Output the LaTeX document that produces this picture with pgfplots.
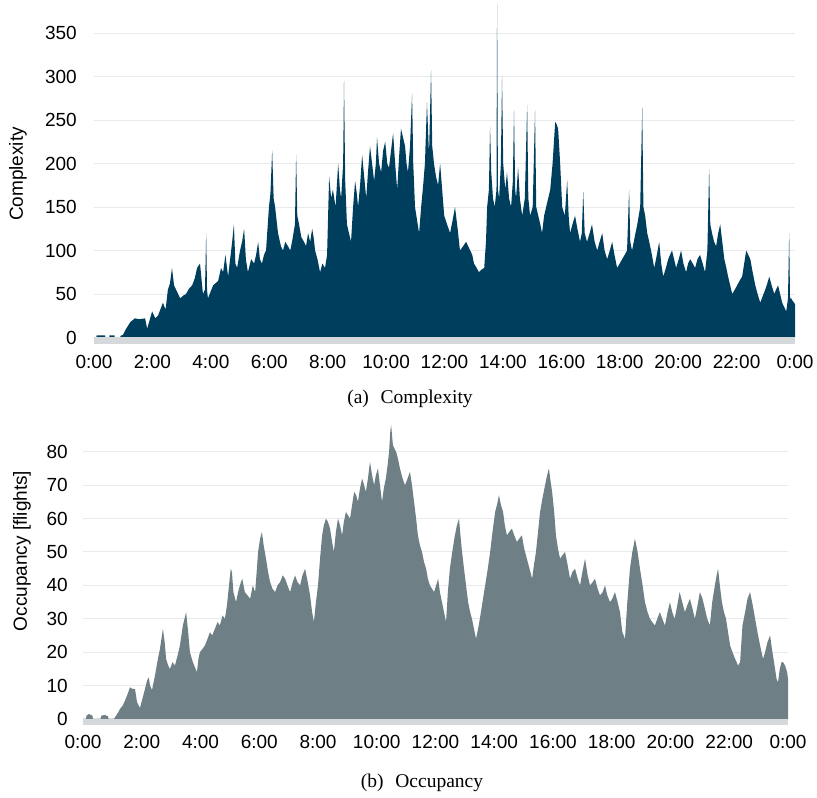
\documentclass[border=0pt]{standalone}
\usepackage{fontspec}
\setmainfont{Liberation Sans}
\newfontfamily\capfont{Liberation Serif}
\usepackage{pgfplots}
\pgfplotsset{compat=1.18}

\definecolor{cplx}{HTML}{003E5E}
\definecolor{occ}{HTML}{6E8086}
\definecolor{gridc}{HTML}{E8EAEC}
\definecolor{bandc}{HTML}{D5D9DC}

\pgfplotsset{
  timeaxis/.style={
    scale only axis, clip=false,
    axis line style={draw=none},
    major tick length=0pt,
    xmin=0, xmax=24,
    xtick={0,2,...,24},
    xticklabels={0:00,2:00,4:00,6:00,8:00,10:00,12:00,14:00,16:00,18:00,20:00,22:00,0:00},
    ymajorgrids, major grid style={color=gridc, line width=1pt},
    /pgf/number format/assume math mode=true,
    tick label style={font=\fontsize{19}{19}\selectfont, inner sep=0pt},
    yticklabel style={anchor=east},
    xticklabel style={anchor=north},
  }
}

\begin{document}
\begin{tikzpicture}
\useasboundingbox (0,0) rectangle (817pt,798pt);

% (a) complexity
\begin{axis}[timeaxis,
  at={(94pt,460.5pt)}, anchor=south west,
  width=701pt, height=337.5pt,
  ymin=0, ymax=388, ytick={0,50,...,350},
  yticklabel style={xshift=-17pt},
  xticklabel style={yshift=-17.5pt},
]
\addplot[fill=cplx, draw=none] coordinates {
(0,0)(0.08,0)(0.09,2.5)(0.38,2.5)(0.39,0)(0.52,0)(0.53,2.5)(0.7,2.5)(0.71,0)(0.9,0)(0.91,2)(0.99,3)
(1.1,10)(1.25,18)(1.40,22)(1.55,21)(1.75,22)(1.82,10)(1.99,30)(2.1,22)(2.19,25)(2.36,40)(2.45,32)(2.53,55)(2.60,62)(2.67,80)(2.74,60)(2.81,55)(2.95,45)(3.05,48)(3.15,50)(3.25,56)(3.36,60)(3.45,68)(3.53,80)(3.63,85)(3.73,50)(3.80,55)(3.84,120)(3.87,55)(3.90,45)
(4.08,60)(4.25,65)(4.35,80)(4.42,75)(4.50,95)(4.59,70)(4.73,110)(4.79,130)(4.84,85)(4.90,80)(5.00,100)(5.07,110)(5.14,125)(5.20,90)(5.27,75)(5.38,90)(5.48,85)(5.55,95)(5.62,110)(5.68,90)(5.75,85)(5.82,95)(5.89,100)(5.99,150)
(6.04,165)(6.10,215)(6.15,160)(6.20,150)(6.30,120)(6.40,105)(6.47,100)(6.55,110)(6.64,105)(6.72,100)(6.78,110)(6.88,130)(6.92,210)(6.96,140)(7.02,130)(7.10,115)(7.19,110)(7.26,105)(7.33,120)(7.40,110)(7.47,125)(7.52,115)(7.57,100)(7.65,90)(7.74,75)(7.82,85)(7.91,80)(7.98,95)
(8.05,185)(8.12,160)(8.18,170)(8.27,150)(8.36,200)(8.42,170)(8.46,160)(8.53,200)(8.56,295)(8.60,180)(8.66,130)(8.73,120)(8.80,110)(8.87,150)(8.94,180)(9.00,165)(9.04,150)(9.11,175)(9.18,210)(9.25,185)(9.32,160)(9.38,190)(9.45,220)(9.52,200)(9.59,180)(9.65,200)(9.69,230)(9.76,200)(9.83,190)(9.90,215)(9.97,225)
(10.04,200)(10.10,195)(10.17,215)(10.24,235)(10.31,200)(10.38,170)(10.45,210)(10.51,240)(10.58,230)(10.65,220)(10.70,200)(10.75,190)(10.82,220)(10.89,280)(10.93,200)(10.99,150)(11.06,135)(11.13,120)(11.20,150)(11.27,175)(11.33,200)(11.40,270)(11.47,210)(11.54,307)(11.58,220)(11.64,200)(11.71,185)(11.78,175)(11.85,200)(11.92,170)(11.99,140)
(12.09,130)(12.19,120)(12.28,135)(12.36,150)(12.45,125)(12.53,100)(12.64,105)(12.74,110)(12.81,105)(12.88,100)(12.95,95)(13.01,85)(13.10,80)(13.18,75)(13.27,78)(13.36,80)(13.42,110)(13.46,150)(13.52,170)(13.56,242)(13.60,190)(13.66,160)(13.72,150)(13.78,170)(13.80,384)(13.83,170)(13.87,160)(13.93,200)(13.97,300)
(14.01,200)(14.08,170)(14.14,190)(14.21,160)(14.28,150)(14.34,180)(14.38,261)(14.42,170)(14.45,160)(14.52,196)(14.58,160)(14.66,140)(14.75,160)(14.83,267)(14.87,160)(14.93,140)(15.02,150)(15.10,261)(15.14,150)(15.21,140)(15.28,130)(15.34,120)(15.41,140)(15.48,150)(15.55,160)(15.62,170)(15.70,200)(15.79,248)(15.84,245)(15.89,240)(15.96,200)
(16.03,150)(16.12,140)(16.20,181)(16.25,140)(16.30,120)(16.38,130)(16.47,140)(16.55,125)(16.64,110)(16.70,120)(16.75,167)(16.80,120)(16.88,110)(16.97,120)(17.05,130)(17.14,110)(17.23,100)(17.31,110)(17.40,120)(17.48,100)(17.57,90)(17.66,100)(17.74,110)(17.82,95)(17.91,80)
(18.00,85)(18.08,90)(18.17,95)(18.25,100)(18.32,170)(18.36,110)(18.42,100)(18.51,115)(18.60,130)(18.65,140)(18.70,150)(18.77,264)(18.81,150)(18.87,140)(18.94,120)(19.01,110)(19.10,95)(19.18,80)(19.27,95)(19.35,110)(19.42,85)(19.49,70)(19.58,80)(19.66,90)(19.72,95)(19.79,100)(19.86,90)(19.93,80)
(20.02,90)(20.10,100)(20.18,85)(20.27,75)(20.34,85)(20.41,90)(20.50,85)(20.58,80)(20.66,90)(20.75,95)(20.84,85)(20.92,75)(21.00,100)(21.06,194)(21.10,130)(21.16,120)(21.23,110)(21.30,105)(21.37,120)(21.44,130)(21.51,110)(21.58,90)(21.65,80)(21.71,70)(21.78,60)(21.85,50)(21.94,55)
(22.02,60)(22.10,65)(22.19,70)(22.26,85)(22.33,100)(22.40,95)(22.47,90)(22.55,75)(22.64,60)(22.72,50)(22.81,40)(22.90,48)(22.98,55)(23.05,62)(23.12,70)(23.20,60)(23.29,50)(23.35,55)(23.42,60)(23.49,50)(23.56,40)(23.63,35)(23.70,30)(23.76,45)(23.80,120)(23.83,45)(23.87,45)(23.92,42)(23.97,40)(24,38)(24,0)
} \closedcycle;
\fill[bandc] (rel axis cs:0,0) rectangle ([yshift=-6.5pt]rel axis cs:1,0);
\end{axis}

% (b) occupancy
\begin{axis}[timeaxis,
  at={(83pt,79pt)}, anchor=south west,
  width=705pt, height=300.6pt,
  ymin=0, ymax=90, ytick={0,10,...,80},
  yticklabel style={xshift=-15pt},
  xticklabel style={yshift=-16pt},
]
\addplot[fill=occ, draw=none] coordinates {
(0,0)(0.1,0)(0.12,1)(0.2,1.5)(0.32,1)(0.34,0)(0.6,0)(0.62,1)(0.75,1.2)(0.85,0.8)(0.87,0)(1.05,0)(1.09,0.5)(1.2,2)(1.26,3)(1.35,4)(1.43,5.5)(1.52,7.5)(1.60,9.5)(1.68,9)(1.77,9)(1.84,5)(1.94,3.3)
(2.02,6)(2.11,9)(2.18,11.5)(2.24,12.5)(2.28,10)(2.35,8.7)(2.45,13)(2.55,18)(2.62,21)(2.72,27)(2.78,23)(2.83,18)(2.90,16)(2.96,15)(3.05,17)(3.13,16)(3.22,19)(3.30,22)(3.40,28)(3.51,32)(3.58,26)(3.64,20)(3.74,17)(3.88,14)(3.93,18)(3.98,20)
(4.07,21)(4.15,22)(4.24,24)(4.32,26)(4.40,25)(4.49,27)(4.58,29)(4.66,28)(4.75,31)(4.83,30)(4.90,34)(4.97,40)(5.03,45)(5.07,44)(5.12,38)(5.21,35)(5.28,38)(5.34,40)(5.42,42)(5.51,38)(5.60,37)(5.69,36)(5.78,40)(5.86,38)(5.92,45)(5.96,50)
(6.03,54)(6.09,56)(6.15,52)(6.23,48)(6.30,44)(6.37,41)(6.45,39)(6.54,38)(6.62,40)(6.71,41)(6.80,43)(6.88,42)(6.96,40)(7.05,38)(7.14,41)(7.22,43)(7.30,41)(7.39,40)(7.47,43)(7.56,45)(7.65,41)(7.73,37)(7.80,32)(7.86,29)(7.93,35)
(8.00,40)(8.07,48)(8.14,55)(8.20,58)(8.27,60)(8.34,59)(8.41,57)(8.48,53)(8.54,50)(8.61,56)(8.68,60)(8.75,58)(8.82,55)(8.88,59)(8.95,62)(9.02,61)(9.09,60)(9.16,64)(9.23,68)(9.30,67)(9.36,65)(9.43,69)(9.50,72)(9.57,70)(9.63,68)(9.70,72)(9.77,77)(9.84,73)(9.91,70)(9.97,73)
(10.04,75)(10.11,70)(10.18,65)(10.24,69)(10.31,72)(10.37,76)(10.42,80)(10.46,86)(10.49,88)(10.52,85)(10.55,82)(10.60,81)(10.66,80)(10.72,78)(10.79,75)(10.88,72)(10.96,70)(11.05,72)(11.13,74)(11.20,70)(11.27,65)(11.34,60)(11.40,55)(11.47,52)(11.54,50)(11.61,47)(11.68,45)(11.74,42)(11.81,40)(11.88,39)(11.95,38)
(12.02,40)(12.09,42)(12.15,38)(12.22,35)(12.29,32)(12.36,29)(12.42,38)(12.49,45)(12.57,50)(12.66,55)(12.73,58)(12.80,60)(12.88,52)(12.97,45)(13.04,40)(13.11,35)(13.18,32)(13.24,30)(13.31,27)(13.38,24)(13.45,27)(13.51,30)(13.60,35)(13.69,40)(13.78,45)(13.86,50)(13.94,56)
(14.03,62)(14.09,64)(14.16,67)(14.23,64)(14.30,62)(14.36,58)(14.43,55)(14.51,56)(14.60,57)(14.68,55)(14.77,53)(14.85,54)(14.94,55)(15.02,51)(15.11,48)(15.20,45)(15.29,42)(15.35,46)(15.42,50)(15.49,56)(15.56,62)(15.64,66)(15.73,70)(15.80,73)(15.86,75)(15.92,71)(15.97,68)
(16.04,62)(16.10,55)(16.17,51)(16.24,48)(16.32,49)(16.41,50)(16.50,46)(16.58,42)(16.66,44)(16.75,45)(16.84,42)(16.92,40)(17.00,44)(17.09,48)(17.18,43)(17.26,40)(17.35,41)(17.43,42)(17.52,39)(17.60,37)(17.69,38)(17.77,40)(17.85,37)(17.94,35)
(18.02,36)(18.11,38)(18.20,35)(18.28,32)(18.36,26)(18.45,24)(18.53,35)(18.62,45)(18.70,50)(18.79,54)(18.88,50)(18.96,45)(19.05,40)(19.13,35)(19.22,32)(19.30,30)(19.38,29)(19.47,28)(19.55,30)(19.64,32)(19.72,30)(19.81,28)(19.90,32)(19.98,35)
(20.06,32)(20.14,30)(20.23,34)(20.31,38)(20.40,35)(20.49,32)(20.57,34)(20.66,36)(20.75,33)(20.83,30)(20.92,34)(21.00,38)(21.09,36)(21.17,33)(21.25,30)(21.34,28)(21.42,35)(21.51,40)(21.57,43)(21.62,45)(21.68,40)(21.75,35)(21.82,32)(21.89,30)(21.96,26)
(22.03,22)(22.11,20)(22.20,18)(22.30,16)(22.37,17)(22.45,28)(22.54,32)(22.62,36)(22.71,38)(22.80,34)(22.88,30)(22.96,26)(23.05,22)(23.15,18)(23.22,20)(23.30,23)(23.39,25)(23.47,20)(23.56,15)(23.61,12)(23.66,11)(23.72,15)(23.78,17)(23.83,17)(23.90,16)(23.97,14)(24,12)(24,0)
} \closedcycle;
\fill[bandc] (rel axis cs:0,0) rectangle ([yshift=-6pt]rel axis cs:1,0);
\end{axis}

\node[rotate=90, font=\fontsize{19}{19}\selectfont, inner sep=0pt] at (18pt,624pt) {Complexity};
\node[rotate=90, font=\fontsize{19}{19}\selectfont, inner sep=0pt] at (22pt,247pt) {Occupancy [flights]};
\node[font=\capfont\fontsize{19.5}{19.5}\selectfont, inner sep=0pt] at (410pt,399pt) {(a)\hspace{0.6em}Complexity};
\node[font=\capfont\fontsize{19.5}{19.5}\selectfont, inner sep=0pt] at (422pt,15pt) {(b)\hspace{0.6em}Occupancy};
\end{tikzpicture}
\end{document}
